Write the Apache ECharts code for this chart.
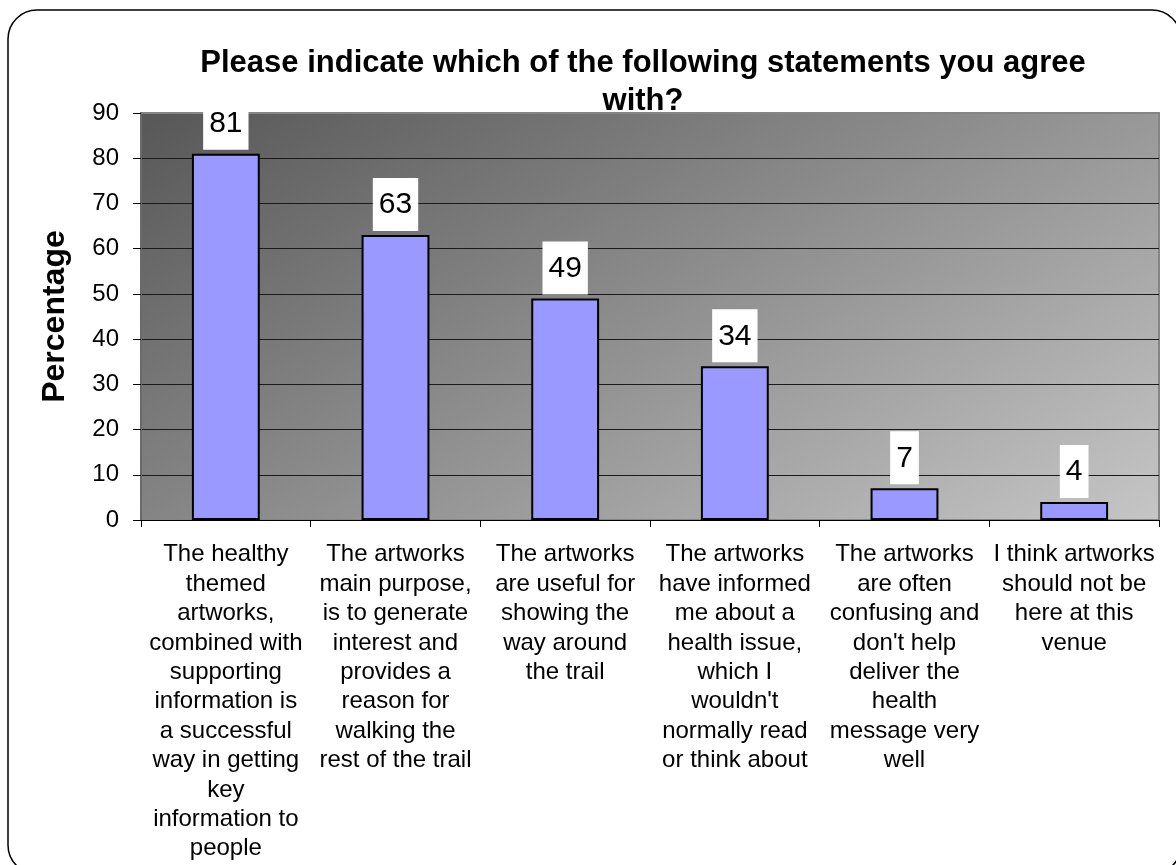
<!DOCTYPE html>
<html>
<head>
<meta charset="utf-8">
<title>Statements agreed with</title>
<script src="https://cdn.jsdelivr.net/npm/echarts@6/dist/echarts.min.js"></script>
<style>
  html, body { margin: 0; padding: 0; background: #fff; }
  #chart { width: 1176px; height: 865px; }
</style>
</head>
<body>
<div id="chart"></div>
<script>
// survey answers, one bar per statement
const categories = [
  'The healthy\nthemed\nartworks,\ncombined with\nsupporting\ninformation is\na successful\nway in getting\nkey\ninformation to\npeople',
  'The artworks\nmain purpose,\nis to generate\ninterest and\nprovides a\nreason for\nwalking the\nrest of the trail',
  'The artworks\nare useful for\nshowing the\nway around\nthe trail',
  'The artworks\nhave informed\nme about a\nhealth issue,\nwhich I\nwouldn\'t\nnormally read\nor think about',
  'The artworks\nare often\nconfusing and\ndon\'t help\ndeliver the\nhealth\nmessage very\nwell',
  'I think artworks\nshould not be\nhere at this\nvenue'
];
const percentages = [81, 63, 49, 34, 7, 4];
const yMin = 0;
const yMax = 90;
const yStep = 10;
const chartTitle = 'Please indicate which of the following statements you agree\nwith?';

const font = 'Arial, "Liberation Sans", sans-serif';

let chart = echarts.init(document.getElementById('chart'), null, { renderer: 'canvas' });

let option = {
  animation: false,
  backgroundColor: '#fff',
  graphic: [{
    // rounded frame round the whole chart
    type: 'rect',
    z: -2,
    shape: { x: 8, y: 10, width: 1173, height: 864, r: 29 },
    style: { fill: null, stroke: '#000', lineWidth: 1.5 }
  }, {
    // title sits under the plot, its second line is partly covered
    type: 'text',
    z: -1,
    x: 643,
    y: 44,
    style: {
      text: chartTitle,
      font: 'bold 31px ' + font,
      lineHeight: 38,
      fill: '#000',
      align: 'center',
      verticalAlign: 'top'
    }
  }],
  grid: {
    left: 141,
    right: 17,
    top: 113,
    bottom: 345,
    show: true,
    borderColor: '#858585',
    borderWidth: 2,
    backgroundColor: new echarts.graphic.LinearGradient(0, 0, 0.423, 1.833, [
      { offset: 0, color: '#575757' },
      { offset: 1, color: '#c6c6c6' }
    ])
  },
  xAxis: {
    type: 'category',
    data: categories,
    axisLine: { lineStyle: { color: '#000', width: 1 } },
    axisTick: { show: true, length: 7, interval: 0, lineStyle: { color: '#000' } },
    axisLabel: {
      interval: 0,
      margin: 20,
      fontFamily: font,
      fontSize: 24,
      lineHeight: 29.4,
      color: '#000',
      align: 'center',
      verticalAlign: 'top'
    }
  },
  yAxis: {
    type: 'value',
    min: yMin,
    max: yMax,
    interval: yStep,
    name: 'Percentage',
    nameLocation: 'middle',
    nameRotate: 90,
    nameGap: 70,
    nameTextStyle: {
      fontFamily: font,
      fontWeight: 'bold',
      fontSize: 32,
      color: '#000'
    },
    axisLine: { show: true, lineStyle: { color: '#6a6a6a', width: 2 } },
    axisTick: { show: true, length: 8, lineStyle: { color: '#000' } },
    axisLabel: {
      margin: 22,
      fontFamily: font,
      fontSize: 24,
      color: '#000'
    },
    splitLine: {
      show: true,
      showMaxLine: false,
      lineStyle: { color: '#1a1a1a', width: 1 }
    }
  },
  series: [{
    type: 'bar',
    data: percentages,
    barWidth: '40%',
    itemStyle: {
      color: '#9999ff',
      borderColor: '#000',
      borderWidth: 2
    },
    label: {
      show: true,
      position: 'top',
      distance: 4,
      fontFamily: font,
      fontSize: 30,
      lineHeight: 32,
      color: '#000',
      backgroundColor: '#fff',
      padding: [11, 6, 10, 6]
    }
  }]
};

chart.setOption(option);
</script>
</body>
</html>
